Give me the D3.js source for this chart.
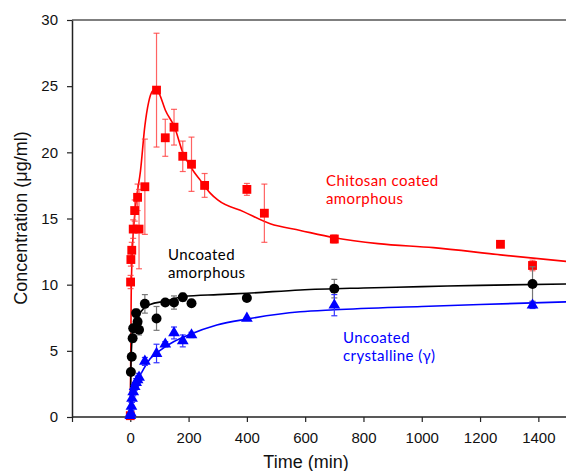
<!DOCTYPE html>
<html><head><meta charset="utf-8">
<script src="https://cdn.jsdelivr.net/npm/d3@7"></script>
<style>body{margin:0;background:#fff}svg{display:block}</style>
</head><body>
<svg id="c" width="566" height="471"></svg>
<script>
// ---- data ----
const xTicks = [-200, 0, 200, 400, 600, 800, 1000, 1200, 1400];
const yTicks = [0, 5, 10, 15, 20, 25, 30];

// Chitosan coated amorphous (red squares)
const redTime = [0, 1, 2, 5, 10, 15, 25, 30, 50, 90, 120, 150, 180, 210, 255, 400, 460, 700, 1270, 1380];
const redConc = [0.1, 10.2, 11.9, 12.6, 14.2, 15.6, 16.6, 14.2, 17.4, 24.7, 21.1, 21.9, 19.7, 19.1, 17.5, 17.2, 15.4, 13.45, 13.05, 11.45];
const redErr  = [0.1, 0.5, 0.5, 0.6, 0.7, 0.8, 1.0, 3.0, 3.6, 4.3, 1.4, 1.35, 1.15, 2.05, 0.9, 0.45, 2.2, 0.3, 0, 0.4];
const redFitTime = [0, 3, 6, 10, 20, 35, 50, 63, 75, 88, 100, 120, 152, 180, 210, 240, 275, 300, 390, 480, 583, 700, 850, 1040, 1270, 1500];
const redFitConc = [0, 9, 12, 13.8, 16.3, 18.6, 22.0, 23.8, 24.6, 24.8, 24.4, 23.2, 21.9, 20.0, 18.8, 17.9, 16.9, 16.4, 15.5, 14.6, 14.1, 13.55, 13.1, 12.8, 12.25, 11.75];

// Uncoated amorphous (black circles)
const blackTime = [2, 5, 8, 10, 20, 25, 30, 50, 90, 120, 150, 180, 210, 400, 700, 1380];
const blackConc = [3.4, 4.55, 5.95, 6.7, 7.85, 7.2, 6.6, 8.55, 7.45, 8.65, 8.65, 9.05, 8.6, 9.0, 9.7, 10.05];
const blackErr  = [0.2, 0.2, 0.3, 0.3, 0.3, 0.3, 0.4, 0.7, 0.9, 0.2, 0.5, 0.3, 0.2, 0.2, 0.7, 1.3];
const blackFitTime = [0, 2, 5, 10, 20, 35, 50, 68, 120, 183, 300, 400, 583, 800, 1000, 1200, 1500];
const blackFitConc = [0, 3.5, 5.6, 6.8, 7.5, 7.9, 8.3, 8.5, 8.75, 9.1, 9.25, 9.35, 9.6, 9.75, 9.85, 9.95, 10.05];

// Uncoated crystalline (gamma) (blue triangles)
const blueTime = [0, 2, 4, 6, 10, 15, 20, 25, 30, 50, 90, 120, 150, 180, 210, 400, 700, 1380];
const blueConc = [0.1, 0.3, 0.8, 1.4, 1.9, 2.3, 2.6, 2.8, 3.0, 4.2, 4.8, 5.5, 6.35, 5.75, 6.2, 7.45, 8.45, 8.45];
const blueErr  = [0.1, 0.2, 0.3, 0.3, 0.3, 0.3, 0.3, 0.3, 0.3, 0.3, 0.7, 0.2, 0.45, 0.45, 0.2, 0.15, 0.8, 0.25];
const blueFitTime = [0, 5, 10, 20, 30, 45, 68, 100, 150, 200, 297, 400, 583, 700, 1000, 1200, 1500];
const blueFitConc = [0, 0.9, 1.7, 2.5, 3.0, 3.6, 4.4, 5.0, 5.7, 6.2, 6.95, 7.4, 7.95, 8.1, 8.35, 8.5, 8.7];

// ---- drawing ----
const svg = d3.select("#c");
const x = d3.scaleLinear().domain([-200, 1500]).range([72, 567.5]);
const y = d3.scaleLinear().domain([0, 30]).range([417, 20]);
const tickFont = "'Liberation Sans', Arial, sans-serif";
const labFont = "Lato, 'Open Sans', sans-serif";

// top frame line
svg.append("line").attr("x1", x(-200)).attr("x2", 566).attr("y1", y(30)).attr("y2", y(30))
  .attr("stroke", "#555").attr("stroke-width", 1.5);

const xAxis = svg.append("g").attr("transform", `translate(0,${y(0)})`)
  .call(d3.axisBottom(x).tickValues(xTicks).tickFormat(d => d < 0 ? "" : d).tickSize(5).tickPadding(10).tickSizeOuter(0));
const yAxis = svg.append("g").attr("transform", `translate(${x(-200)},0)`)
  .call(d3.axisLeft(y).tickValues(yTicks).tickSize(5).tickPadding(9).tickSizeOuter(0));
[xAxis, yAxis].forEach(g => {
  g.selectAll("path.domain").attr("stroke", "#222").attr("stroke-width", 1.5);
  g.selectAll(".tick line").attr("stroke", "#222").attr("stroke-width", 1.2);
  g.selectAll(".tick text").attr("font-family", tickFont).attr("font-size", 15).attr("fill", "#111");
});
xAxis.select("path.domain").attr("d", `M${x(-200)},0H566`);

svg.append("text").attr("x", 306).attr("y", 468).attr("text-anchor", "middle")
  .attr("font-family", tickFont).attr("font-size", 18).attr("fill", "#111").text("Time (min)");
svg.append("text").attr("transform", "translate(27,218) rotate(-90)").attr("text-anchor", "middle")
  .attr("font-family", tickFont).attr("font-size", 18).attr("fill", "#111").text("Concentration (μg/ml)");

const line = d3.line().x(d => x(d[0])).y(d => y(d[1])).curve(d3.curveMonotoneX);
const plot = svg.append("g");

function series(times, conc, err, fitT, fitC, color, errColor, shape) {
  plot.append("path").datum(fitT.map((t, i) => [t, fitC[i]])).attr("d", line)
    .attr("fill", "none").attr("stroke", color).attr("stroke-width", 1.6);
  const data = times.map((t, i) => ({t, c: conc[i], e: err[i]}));
  const eb = plot.append("g").attr("stroke", errColor).attr("stroke-width", 1.2);
  data.filter(d => d.e > 0.15).forEach(d => {
    const cx = x(d.t), y1 = y(d.c + d.e), y2 = y(d.c - d.e);
    eb.append("line").attr("x1", cx).attr("x2", cx).attr("y1", y1).attr("y2", y2);
    eb.append("line").attr("x1", cx - 3).attr("x2", cx + 3).attr("y1", y1).attr("y2", y1);
    eb.append("line").attr("x1", cx - 3).attr("x2", cx + 3).attr("y1", y2).attr("y2", y2);
  });
  plot.append("g").selectAll("path").data(data).join("path")
    .attr("transform", d => `translate(${x(d.t)},${y(d.c)})`)
    .attr("d", d3.symbol().type(shape).size(shape === d3.symbolTriangle ? 60 : 78))
    .attr("fill", color);
}
series(redTime, redConc, redErr, redFitTime, redFitConc, "#ff0000", "rgba(255,60,60,0.8)", d3.symbolSquare);
series(blackTime, blackConc, blackErr, blackFitTime, blackFitConc, "#000000", "#777", d3.symbolCircle);
series(blueTime, blueConc, blueErr, blueFitTime, blueFitConc, "#0000ff", "#3333ff", d3.symbolTriangle);

function label(lines, lx, ly, color) {
  lines.forEach((s, i) => svg.append("text").attr("x", lx).attr("y", ly + i * 18)
    .attr("font-family", labFont).attr("font-size", 15).attr("letter-spacing", 0.4)
    .attr("fill", color).text(s));
}
label(["Chitosan coated", "amorphous"], 326, 186, "#ff0000");
label(["Uncoated", "amorphous"], 168, 260, "#000");
label(["Uncoated", "crystalline (γ)"], 343, 343, "#0000ff");
</script>
</body></html>
